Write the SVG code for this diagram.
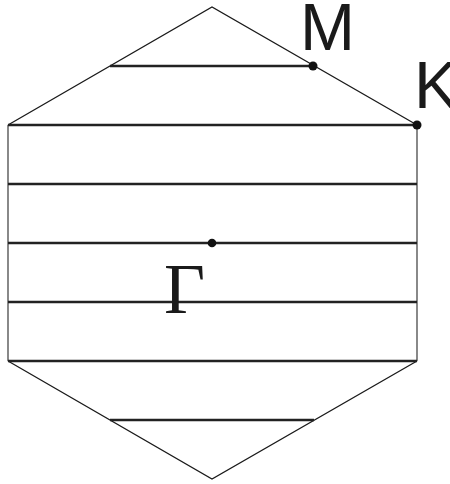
<svg xmlns="http://www.w3.org/2000/svg" width="450" height="484" viewBox="0 0 450 484">
  <style>
    .edge { stroke: #1a1a1a; stroke-width: 1.3; fill: none; }
    .side { stroke: #6b6b6b; stroke-width: 1.6; fill: none; }
    .hl { stroke: #222; stroke-width: 2.6; fill: none; }
    .dot { fill: #111; }
    .lab { font-family: "Liberation Sans", Arial, sans-serif; font-size: 66px; fill: #1a1a1a; }
    .gam { font-family: "Liberation Serif", "Times New Roman", serif; font-size: 71px; fill: #1a1a1a; }
  </style>
  <rect width="450" height="484" fill="#fff"/>
  <g id="hexagon">
    <polyline class="edge" points="8,125 212,7 417,125"/>
    <polyline class="edge" points="8,361 212,479 417,361"/>
    <line class="side" x1="8" y1="125" x2="8" y2="361"/>
    <line class="side" x1="417" y1="125" x2="417" y2="361"/>
  </g>
  <g id="lines">
    <line class="hl" x1="110" y1="66" x2="313" y2="66"/>
    <line class="hl" x1="8" y1="125" x2="417" y2="125"/>
    <line class="hl" x1="8" y1="184" x2="417" y2="184"/>
    <line class="hl" x1="8" y1="243" x2="417" y2="243"/>
    <line class="hl" x1="8" y1="302" x2="417" y2="302"/>
    <line class="hl" x1="8" y1="361" x2="417" y2="361"/>
    <line class="hl" x1="110" y1="420" x2="314" y2="420"/>
  </g>
  <g id="points">
    <circle class="dot" cx="313" cy="66" r="4.5"/>
    <circle class="dot" cx="417" cy="125" r="4.5"/>
    <circle class="dot" cx="212" cy="243" r="4.3"/>
  </g>
  <g id="labels">
    <text class="lab" x="300" y="50">M</text>
    <text class="lab" x="414" y="108">K</text>
    <text class="gam" x="164" y="313">Γ</text>
  </g>
</svg>
